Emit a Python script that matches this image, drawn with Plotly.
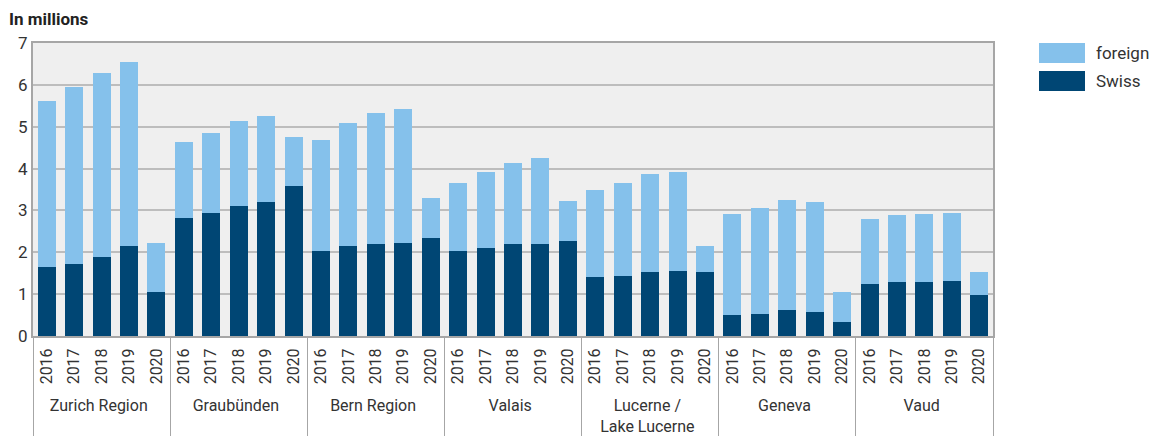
import plotly.graph_objects as go

regions = ["Zurich Region", "Graubünden", "Bern Region", "Valais",
           "Lucerne /<br>Lake Lucerne", "Geneva", "Vaud"]
years = ["2016", "2017", "2018", "2019", "2020"]

# totals (millions) and Swiss part, per region, per year
totals = [
    [5.61, 5.95, 6.28, 6.54, 2.23],
    [4.63, 4.84, 5.13, 5.25, 4.75],
    [4.68, 5.08, 5.32, 5.42, 3.29],
    [3.65, 3.91, 4.13, 4.25, 3.22],
    [3.50, 3.65, 3.86, 3.91, 2.14],
    [2.91, 3.05, 3.24, 3.19, 1.04],
    [2.79, 2.88, 2.91, 2.95, 1.52],
]
swiss = [
    [1.64, 1.73, 1.88, 2.14, 1.06],
    [2.81, 2.95, 3.10, 3.19, 3.58],
    [2.02, 2.16, 2.21, 2.23, 2.35],
    [2.02, 2.11, 2.19, 2.19, 2.28],
    [1.42, 1.44, 1.54, 1.56, 1.54],
    [0.49, 0.53, 0.61, 0.58, 0.34],
    [1.25, 1.28, 1.28, 1.32, 0.97],
]

C_FOREIGN = "#85c1eb"
C_SWISS = "#004674"
FONT = "Roboto"

x_outer = [r for r in regions for _ in years]
x_inner = [y for _ in regions for y in years]
swiss_flat = [v for row in swiss for v in row]
foreign_flat = [round(t - s, 2) for trow, srow in zip(totals, swiss) for t, s in zip(trow, srow)]

fig = go.Figure()
fig.add_trace(go.Bar(x=[x_outer, x_inner], y=swiss_flat, name="Swiss",
                     marker=dict(color=C_SWISS, line=dict(width=0))))
fig.add_trace(go.Bar(x=[x_outer, x_inner], y=foreign_flat, name="foreign",
                     marker=dict(color=C_FOREIGN, line=dict(width=0))))

fig.update_layout(
    barmode="stack",
    bargap=0.34,
    width=1152, height=436,
    margin=dict(l=33, r=159, t=43, b=100),
    paper_bgcolor="white",
    plot_bgcolor="#efefef",
    font=dict(family=FONT, size=16, color="#333333"),
    showlegend=False,
)
fig.update_xaxes(
    type="multicategory",
    automargin=False,
    tickangle=-90,
    tickfont=dict(size=16, color="#333333"),
    ticklabelstandoff=4,
    showdividers=True, dividercolor="#a6a6a6", dividerwidth=1,
    showline=True, linecolor="#a6a6a6", linewidth=2, mirror=True,
    ticks="",
    showgrid=False,
)
fig.update_yaxes(
    range=[0, 7], dtick=1,
    showgrid=True, gridcolor="#bdbdbd", gridwidth=1.5,
    showline=True, linecolor="#a6a6a6", linewidth=2, mirror=True,
    tickfont=dict(size=17, color="#333333"),
    ticks="", zeroline=False,
)

# title
fig.add_annotation(text="<b>In millions</b>", xref="paper", yref="paper",
                   x=-26/960, y=1, yshift=36, xanchor="left", yanchor="top",
                   showarrow=False, font=dict(size=17, color="#222222"))

# legend drawn manually
for i, (name, col) in enumerate([("foreign", C_FOREIGN), ("Swiss", C_SWISS)]):
    y0 = 1 - (i * 28) / 293
    fig.add_shape(type="rect", xref="paper", yref="paper",
                  x0=(1039 - 33) / 960, x1=(1085 - 33) / 960,
                  y0=y0 - 20 / 293, y1=y0, fillcolor=col, line=dict(width=0))
    fig.add_annotation(text=name, xref="paper", yref="paper",
                       x=(1094 - 33) / 960, y=y0 - 10 / 293,
                       xanchor="left", yanchor="middle", showarrow=False,
                       font=dict(size=17, color="#333333"))

fig.write_html("out.html", config={"displayModeBar": False},
               post_script="document.body.style.margin='0px';document.body.style.overflow='hidden';")
